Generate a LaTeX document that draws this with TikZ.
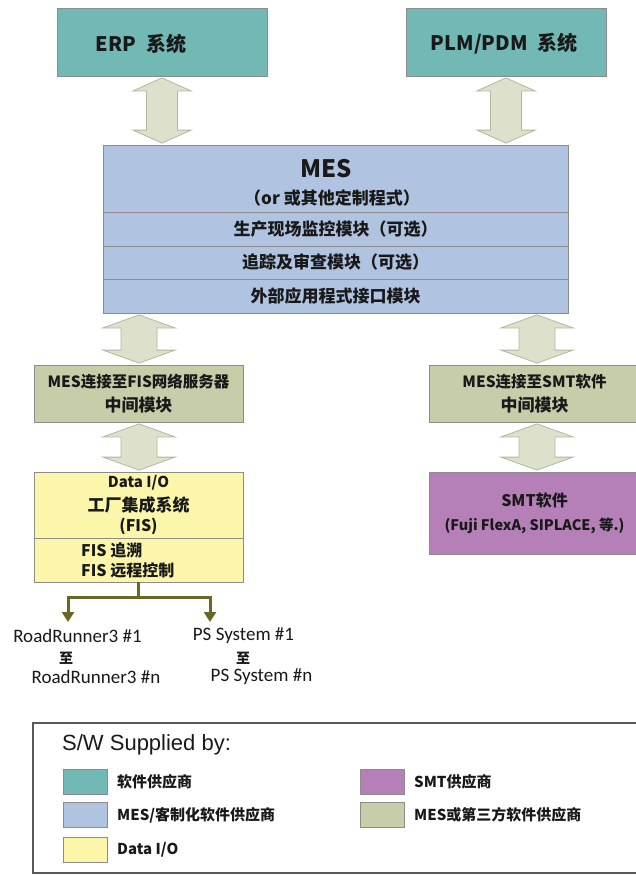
\documentclass[tikz,border=0pt]{standalone}
\usepackage{fontspec}
\setmainfont{Noto Sans CJK SC}
\newfontfamily\carlito{Carlito}
\newfontfamily\libsans{Liberation Sans}
\usetikzlibrary{arrows.meta,calc}
\definecolor{tealbox}{RGB}{114,184,180}
\definecolor{mesblue}{RGB}{176,196,226}
\definecolor{olivebox}{RGB}{198,205,168}
\definecolor{yellowbox}{RGB}{251,246,170}
\definecolor{purplebox}{RGB}{181,127,184}
\definecolor{arrowfill}{RGB}{221,225,203}
\definecolor{arrowline}{RGB}{178,183,162}
\definecolor{boxline}{RGB}{140,140,140}
\definecolor{treeline}{RGB}{104,104,36}
\definecolor{txt}{RGB}{25,25,25}
\newcommand\fs[2]{\fontsize{#1}{#2}\selectfont}
\newcommand\dbl[5]{%
  \path[dblarrow] let \p1=(#2.south), \p2=(#3.north) in
    (#1pt,\y1-1.5pt) -- (#1pt+#5pt,\y1-14.5pt) -- (#1pt+#4pt,\y1-14.5pt)
    -- (#1pt+#4pt,\y2+14.5pt) -- (#1pt+#5pt,\y2+14.5pt) -- (#1pt,\y2+1.5pt)
    -- (#1pt-#5pt,\y2+14.5pt) -- (#1pt-#4pt,\y2+14.5pt)
    -- (#1pt-#4pt,\y1-14.5pt) -- (#1pt-#5pt,\y1-14.5pt) -- cycle;}
\tikzset{
  box/.style={draw=boxline, line width=0.8pt, inner sep=0pt, align=center,
    text=txt, font=\bfseries\fs{17}{24}},
  midbox/.style={box, font=\bfseries\fs{15.5}{24}},
  dblarrow/.style={fill=arrowfill, draw=arrowline, line width=0.8pt},
  tree/.style={draw=treeline, line width=3pt,
    -{Triangle[width=12pt,length=10pt]}},
  lbl/.style={inner sep=0pt, text=txt},
  swatch/.style={draw=boxline, line width=0.8pt, minimum width=44pt,
    minimum height=25pt, inner sep=0pt},
  legtext/.style={inner sep=0pt, anchor=west, text=txt, font=\bfseries\fs{15}{18}}
}
\begin{document}
\begin{tikzpicture}[x=1pt,y=-1pt]
\useasboundingbox (0,0) rectangle (635,876);
\fill[white] (0,0) rectangle (635,876);

% top systems
\node[box, fill=tealbox, minimum width=210pt, minimum height=68pt] (erp) at (162,42) {};
\node[lbl, font=\bfseries\fs{20}{24}] (erpt) at (141,44) {ERP\hspace{5pt} 系统};
\node[box, fill=tealbox, minimum width=200pt, minimum height=68pt] (plm) at (506,42) {};
\node[lbl, font=\bfseries\fs{20}{24}] (plmt) at (504,44) {PLM/PDM\hspace{5pt} 系统};

% MES stack
\node[box, fill=mesblue, minimum width=465pt, minimum height=67pt] (mes) at (335.5,178.5) {};
\node[lbl, font=\bfseries\fs{24}{28}] (mest) at (326,169) {MES};
\node[lbl, font=\bfseries\fs{17}{20}] (mess) at (332,198) {（or 或其他定制程式）};
\node[box, fill=mesblue, minimum width=465pt, minimum height=34pt] (row1) at (335.5,229) {生产现场监控模块（可选）};
\node[box, fill=mesblue, minimum width=465pt, minimum height=33pt] (row2) at (335.5,262.5) {追踪及审查模块（可选）};
\node[box, fill=mesblue, minimum width=465pt, minimum height=34pt] (row3) at (335.5,296) {外部应用程式接口模块};

% middle modules
\node[midbox, fill=olivebox, minimum width=209pt, minimum height=57pt] (fismid) at (138.5,393.5) {MES连接至FIS网络服务器\\{\fs{17}{24}中间模块}};
\node[midbox, fill=olivebox, minimum width=211pt, minimum height=57pt] (smtmid) at (534.5,393.5) {MES连接至SMT软件\\{\fs{17}{24}中间模块}};

% FIS
\node[box, fill=yellowbox, minimum width=209pt, minimum height=66pt] (fis1) at (138.5,505)
  {{\fs{15}{20}Data I/O}\\{\fs{17}{21}工厂集成系统}\\[-4pt]{\fs{16}{20}(FIS)}};
\node[box, fill=yellowbox, minimum width=209pt, minimum height=44pt] (fis2) at (138.5,560) {};
\node[lbl, anchor=west, align=left, font=\bfseries\fs{16}{20}] (fis2t) at (81,560) {FIS 追溯\\FIS 远程控制};

% SMT software
\node[box, fill=purplebox, minimum width=211pt, minimum height=82pt] (smt) at (534.5,513)
  {{\fs{16}{21}SMT软件}\\{\fs{14.5}{21}(Fuji FlexA, SIPLACE, 等.)}};

% double arrows
\dbl{162}{erp}{mes}{15.5}{29}
\dbl{506}{plm}{mes}{15.5}{29}
\dbl{139}{row3}{fismid}{18}{36}
\dbl{537}{row3}{smtmid}{18}{36}
\dbl{139}{fismid}{fis1}{18}{36}
\dbl{537}{smtmid}{smt}{18}{36}

% tree
\coordinate (split) at (138.5,597);
\coordinate (rrtip) at (68,622);
\coordinate (pstip) at (210,622);
\draw[tree] (fis2.south) -- (split) -| (rrtip);
\draw[tree] (split) -| (pstip);
\node[lbl, font=\carlito\fs{19}{20}] (rr1) at (77.5,636) {RoadRunner3 \#1};
\node[lbl, font=\bfseries\fs{14}{16}] (rrto) at (66,658) {至};
\node[lbl, font=\carlito\fs{19}{20}] (rrn) at (96,677) {RoadRunner3 \#n};
\node[lbl, font=\carlito\fs{19}{20}] (ps1) at (243.5,636) {PS System \#1};
\node[lbl, font=\bfseries\fs{14}{16}] (psto) at (243,658) {至};
\node[lbl, font=\carlito\fs{19}{20}] (psn) at (261.5,677) {PS System \#n};

% legend
\draw[draw=black!65, line width=1.2pt] (33,723) rectangle (640,873);
\node[lbl, anchor=west, font=\libsans\fs{22}{24}] (legtitle) at (62,745) {S/W Supplied by:};
\node[swatch, fill=tealbox] (sw1) at (85,781.5) {};
\node[legtext] (lt1) at (117,781.5) {软件供应商};
\node[swatch, fill=mesblue] (sw2) at (85,815) {};
\node[legtext] (lt2) at (117,815) {MES/客制化软件供应商};
\node[swatch, fill=yellowbox] (sw3) at (85,849.5) {};
\node[legtext] (lt3) at (117,849.5) {Data I/O};
\node[swatch, fill=purplebox] (sw4) at (382,781.5) {};
\node[legtext] (lt4) at (414,781.5) {SMT供应商};
\node[swatch, fill=olivebox] (sw5) at (382,815) {};
\node[legtext] (lt5) at (414,815) {MES或第三方软件供应商};
\end{tikzpicture}
\end{document}
